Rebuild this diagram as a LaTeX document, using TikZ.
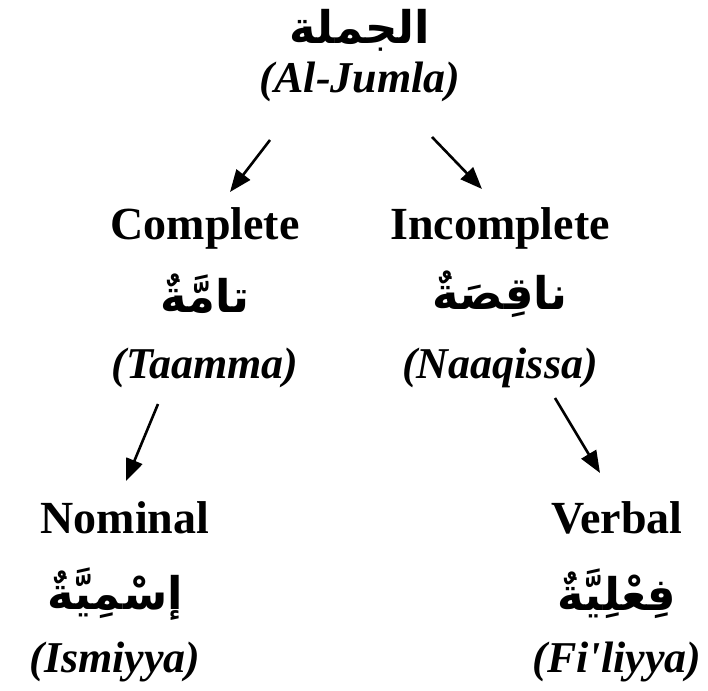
\documentclass[tikz,border=0pt]{standalone}
\usepackage{fontspec}
\setmainfont{Liberation Serif}
\newfontfamily\arabicfont[Script=Arabic]{DejaVu Sans}
\TeXXeTstate=1
\usetikzlibrary{arrows.meta}
\tikzset{
  lat/.style={font=\fontsize{46}{50}\selectfont\bfseries, inner sep=0pt},
  tr/.style={font=\fontsize{44}{50}\selectfont\bfseries\itshape, inner sep=0pt},
  ar/.style={font=\fontsize{45}{52}\selectfont\arabicfont\bfseries, inner sep=0pt},
  arr/.style={line width=2.6pt, -{Triangle[length=22pt,width=17pt]}}
}
\begin{document}
\begin{tikzpicture}[x=1pt,y=-1pt]
\useasboundingbox (0,0) rectangle (708,690);
\node[ar] (jumla) at (360,30) {\beginR الجملة\endR};
\node[tr] (jumlat) at (360,82) {(Al-Jumla)};
\node[lat] (comp) at (205,228) {Complete};
\node[lat] (incomp) at (500,228) {Incomplete};
\node[ar] (taamma) at (205,294) {\beginR تامَّةٌ\endR};
\node[ar] (naaqissa) at (500,294) {\beginR ناقِصَةٌ\endR};
\node[tr] (taammat) at (205,368) {(Taamma)};
\node[tr] (naaqissat) at (500,368) {(Naaqissa)};
\node[lat] (nom) at (125,518) {Nominal};
\node[lat] (verb) at (617,518) {Verbal};
\node[ar] (ismiyya) at (115,594) {\beginR إسْمِيَّةٌ\endR};
\node[ar] (filiyya) at (617,594) {\beginR فِعْلِيَّةٌ\endR};
\node[tr] (ismiyyat) at (115,662) {(Ismiyya)};
\node[tr] (filiyyat) at (617,662) {(Fi\textquotesingle liyya)};
\coordinate (a1s) at (270,140); \coordinate (a1e) at (230,192);
\coordinate (a2s) at (432,137); \coordinate (a2e) at (482,189);
\coordinate (a3s) at (158,404); \coordinate (a3e) at (126,481);
\coordinate (a4s) at (555,398); \coordinate (a4e) at (600,473);
\draw[arr] (a1s) -- (a1e);
\draw[arr] (a2s) -- (a2e);
\draw[arr] (a3s) -- (a3e);
\draw[arr] (a4s) -- (a4e);
\end{tikzpicture}
\end{document}
